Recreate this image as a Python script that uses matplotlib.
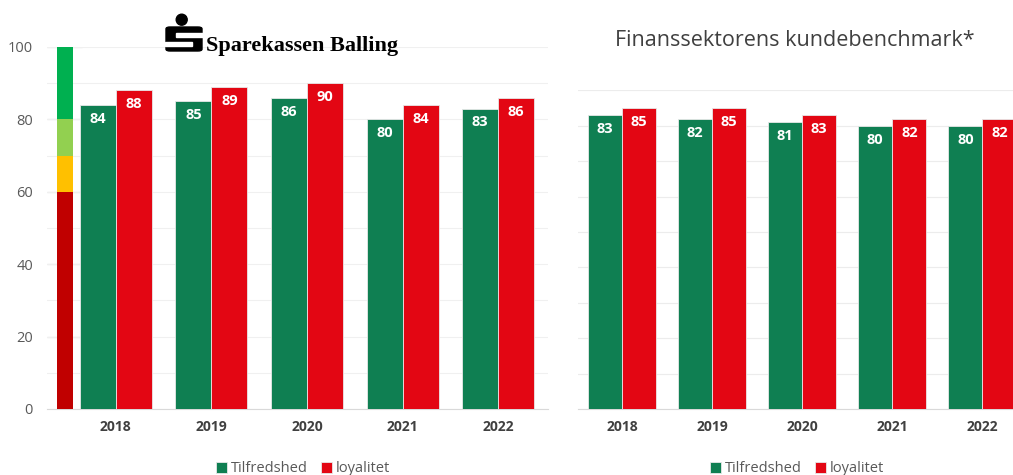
import matplotlib
matplotlib.use("Agg")
import matplotlib.pyplot as plt
from matplotlib.patches import FancyBboxPatch, Rectangle, Ellipse
import numpy as np

plt.rcParams["font.family"] = ["Open Sans", "DejaVu Sans"]

years = ["2018", "2019", "2020", "2021", "2022"]
bank_tilfredshed = [84, 85, 86, 80, 83]
bank_loyalitet = [88, 89, 90, 84, 86]
bench_tilfredshed = [83, 82, 81, 80, 80]
bench_loyalitet = [85, 85, 83, 82, 82]

# colour scale shown beside the left chart
scale_bottoms = [0, 60, 70, 80]
scale_heights = [60, 10, 10, 20]
scale_colors = ["#C00000", "#FFC000", "#92D050", "#00B050"]

GREEN = "#0F7F52"
RED = "#E30613"
W, H = 1013, 475


def px(x, y):
    return x / W, 1 - y / H


def draw_bars(ax, tilf, loyal, width):
    x = np.arange(len(years))
    b1 = ax.bar(x - width / 2, tilf, width, color=GREEN, edgecolor="#e8e8e8",
                linewidth=0.6, label="Tilfredshed", zorder=3)
    b2 = ax.bar(x + width / 2, loyal, width, color=RED, edgecolor="#e8e8e8",
                linewidth=0.6, label="loyalitet", zorder=3)
    for bars in (b1, b2):
        for r in bars:
            ax.annotate(f"{r.get_height():.0f}",
                        (r.get_x() + r.get_width() / 2, r.get_height()),
                        xytext=(0, -10), textcoords="offset points",
                        ha="center", va="center", color="white",
                        fontsize=10.5, fontweight="bold", zorder=4)
    ax.set_xticks(x)
    ax.set_xticklabels(years, fontsize=10, fontweight="bold", color="#404040")
    ax.tick_params(axis="x", length=0, pad=8)
    for s in ("top", "right", "left"):
        ax.spines[s].set_visible(False)
    ax.spines["bottom"].set_color("#d9d9d9")
    return b1, b2


fig = plt.figure(figsize=(W / 100, H / 100), dpi=100)

# ── left: Sparekassen Balling ────────────────────────────────────────────────
axl = fig.add_axes([47 / W, 1 - 409 / H, 501 / W, 362 / H])
axl.set_xlim(-0.72, 4.52)
axl.set_ylim(0, 100)
axl.bar([-0.534] * 4, scale_heights, 0.168, bottom=scale_bottoms,
        color=scale_colors, zorder=3)
h = draw_bars(axl, bank_tilfredshed, bank_loyalitet, 0.377)
axl.set_yticks(range(0, 101, 20))
axl.set_yticks(range(10, 100, 20), minor=True)
axl.tick_params(axis="y", which="both", length=0, labelsize=10.5,
                labelcolor="#595959", pad=10)
axl.grid(axis="y", which="both", color="#f0f0f0", linewidth=0.8, zorder=0)
axl.hlines(range(20, 101, 20), -0.72, -0.35, color="#dcdcdc", linewidth=0.9,
           zorder=1)
fig.legend(h, ["Tilfredshed", "loyalitet"], loc="center",
           bbox_to_anchor=(303 / W, 1 - 469 / H), ncol=2, frameon=False,
           handlelength=0.75, handleheight=0.75, handletextpad=0.3,
           columnspacing=0.9, fontsize=10.5, labelcolor="#595959")

# logo
fig.text(*px(206, 46), "Sparekassen Balling", family="Liberation Serif",
         fontweight="bold", fontsize=16, va="center", ha="left", color="black")
fig.add_artist(Ellipse(px(181.7, 19.7), 11 / W, 11 / H, color="black",
                       transform=fig.transFigure))
fig.add_artist(FancyBboxPatch(px(166, 51), 36 / W, 24 / H,
                              boxstyle="round,pad=0,rounding_size=0.004",
                              color="black", transform=fig.transFigure))
fig.add_artist(Rectangle(px(176, 36.5), 27 / W, 3.5 / H, color="white",
                         transform=fig.transFigure))
fig.add_artist(Rectangle(px(165, 45.5), 27 / W, 3.5 / H, color="white",
                         transform=fig.transFigure))

# ── right: Finanssektorens kundebenchmark ────────────────────────────────────
axr = fig.add_axes([578 / W, 1 - 409 / H, 435 / W, 318.6 / H])
axr.set_xlim(-0.49, 4.34)
axr.set_ylim(0, 90)
h = draw_bars(axr, bench_tilfredshed, bench_loyalitet, 0.378)
axr.set_yticks(range(0, 91, 10))
axr.tick_params(axis="y", length=0, labelleft=False)
axr.grid(axis="y", color="#ececec", linewidth=0.8, zorder=0)
fig.legend(h, ["Tilfredshed", "loyalitet"], loc="center",
           bbox_to_anchor=(797 / W, 1 - 469 / H), ncol=2, frameon=False,
           handlelength=0.75, handleheight=0.75, handletextpad=0.3,
           columnspacing=0.9, fontsize=10.5, labelcolor="#595959")
fig.text(*px(795, 40), "Finanssektorens kundebenchmark*", ha="center",
         va="center", fontsize=15.5, color="#404040")

fig.savefig("out.png", dpi=100)
